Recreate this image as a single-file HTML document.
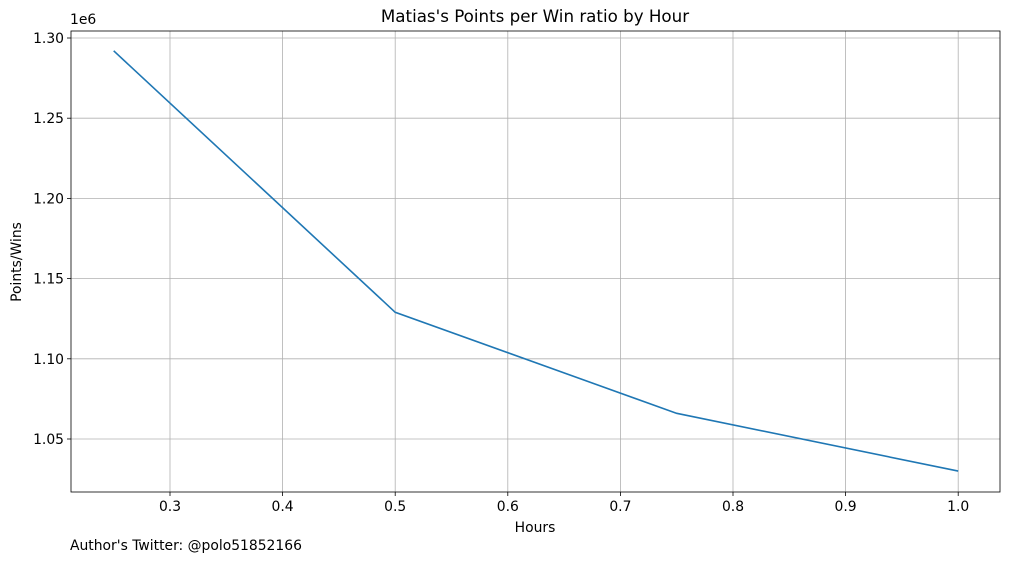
<!DOCTYPE html>
<html><head><meta charset="utf-8"><style>
body{margin:0;background:#fff;}
svg{display:block;font-family:"DejaVu Sans","Liberation Sans",sans-serif;}
</style></head><body>
<svg id="chart" width="1010" height="562"></svg>
<script>
const hours = [0.25, 0.5, 0.75, 1.0];
const ratios = [1.292, 1.129, 1.066, 1.030];
const xTicks = [0.3, 0.4, 0.5, 0.6, 0.7, 0.8, 0.9, 1.0];
const xTickLabels = ["0.3","0.4","0.5","0.6","0.7","0.8","0.9","1.0"];
const yTicks = [1.05, 1.10, 1.15, 1.20, 1.25, 1.30];
const yTickLabels = ["1.05","1.10","1.15","1.20","1.25","1.30"];

const L=71,R=1000,T=31,B=492;
const xs=v=>170+(v-0.3)/0.1*112.6;
const ys=v=>38+(1.30-v)/0.05*80.2;
const svg=document.getElementById('chart');
const NS='http://www.w3.org/2000/svg';
function mk(tag,attrs,parent){const e=document.createElementNS(NS,tag);for(const k in attrs)e.setAttribute(k,attrs[k]);(parent||svg).appendChild(e);return e;}

xTicks.forEach((v,i)=>{
  const g=mk('line',{x1:xs(v),x2:xs(v),y1:T,y2:B,stroke:'#b0b0b0','stroke-width':0.8});
  
  
  mk('line',{x1:xs(v),x2:xs(v),y1:B,y2:B+4,stroke:'#000','stroke-width':0.8});
  const t=mk('text',{x:xs(v),y:B+19,'text-anchor':'middle','font-size':13.9});
  t.textContent=xTickLabels[i];
  
  
});
yTicks.forEach((v,i)=>{
  const g=mk('line',{x1:L,x2:R,y1:ys(v),y2:ys(v),stroke:'#b0b0b0','stroke-width':0.8});
  
  
  mk('line',{x1:L-4,x2:L,y1:ys(v),y2:ys(v),stroke:'#000','stroke-width':0.8});
  const t=mk('text',{x:L-7,y:ys(v)+5,'text-anchor':'end','font-size':13.9});
  t.textContent=yTickLabels[i];
  
  
});
const line=mk('polyline',{points:hours.map((h,i)=>xs(h)+','+ys(ratios[i])).join(' '),fill:'none',stroke:'#1f77b4','stroke-width':1.6});


const fr=mk('rect',{x:L,y:T,width:R-L,height:B-T,fill:'none',stroke:'#000','stroke-width':0.8});


</script>
<div style="position:absolute;left:0;top:0;width:1010px;height:562px;pointer-events:none;font-family:'DejaVu Sans','Liberation Sans',sans-serif;">
  <div style="position:absolute;top:6px;left:0;width:1070px;text-align:center;font-size:16.7px;">Matias's Points per Win ratio by Hour</div>
  <div style="position:absolute;top:12px;left:70px;font-size:13.9px;">1e6</div>
  <div style="position:absolute;top:520px;left:0;width:1070px;text-align:center;font-size:13.9px;">Hours</div>
  <div style="position:absolute;top:262px;left:17px;font-size:13.9px;transform:translate(-50%,-50%) rotate(-90deg);white-space:nowrap;">Points/Wins</div>
  <div style="position:absolute;top:538px;left:70px;font-size:13.9px;">Author's Twitter: @polo51852166</div>
</div>
</body></html>
